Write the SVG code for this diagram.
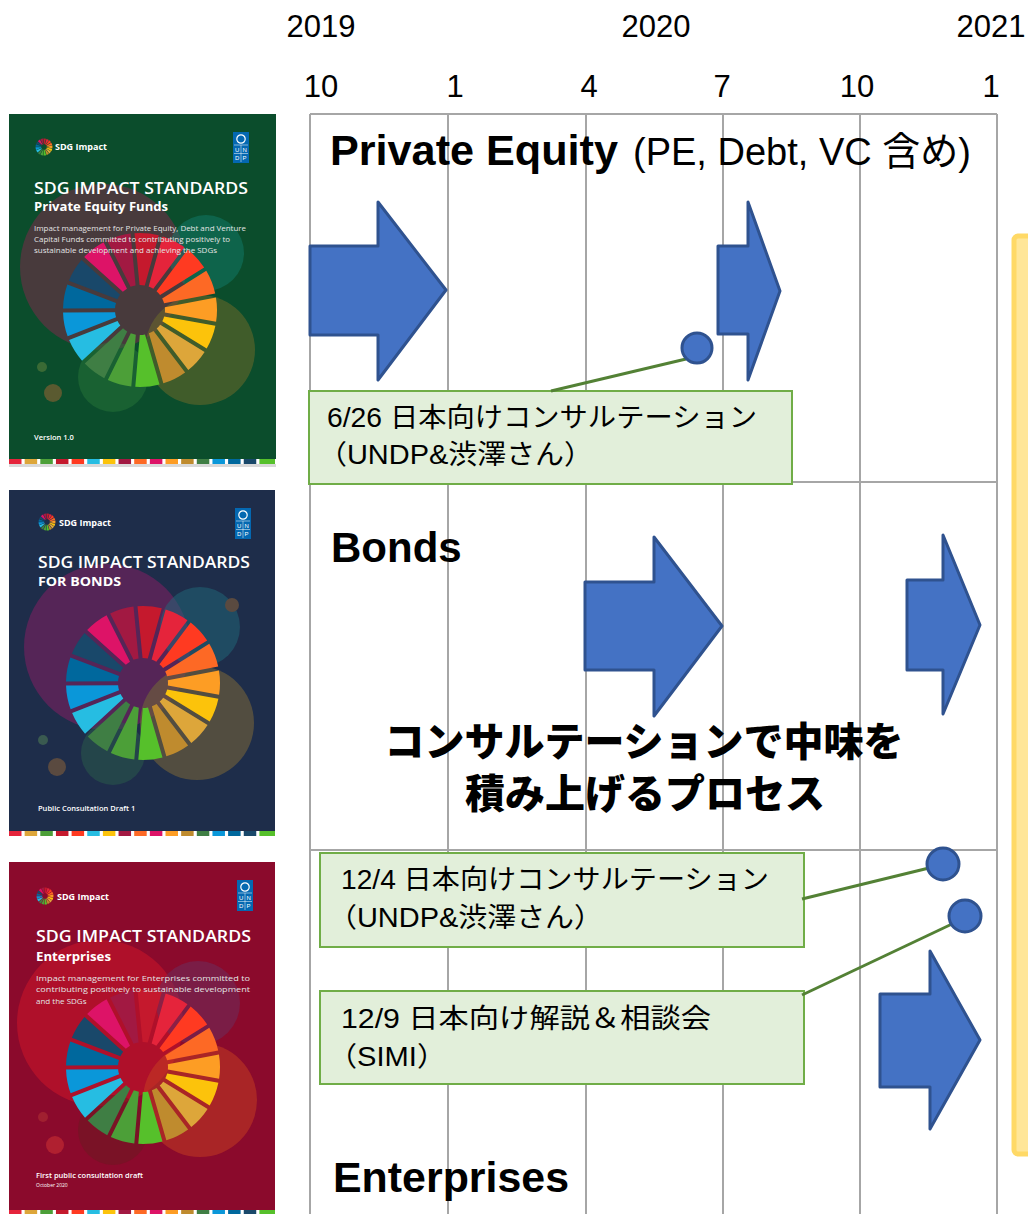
<svg xmlns="http://www.w3.org/2000/svg" xmlns:xlink="http://www.w3.org/1999/xlink" width="1028" height="1214" viewBox="0 0 1028 1214">
<style>
.grid{stroke:#a6a6a6;stroke-width:2;fill:none}
.arrow{fill:#4472c4;stroke:#2f528f;stroke-width:3;stroke-linejoin:round}
.dot{fill:#4472c4;stroke:#2f528f;stroke-width:3}
.conn{stroke:#538135;stroke-width:3;fill:none}
.box{fill:#e2efda;stroke:#70ad47;stroke-width:2}
.axis{font-family:"Liberation Sans",Arial,sans-serif;font-size:31px;text-anchor:middle;fill:#000}
.note{font-family:"Liberation Sans","Noto Sans CJK JP",sans-serif;font-size:27px;fill:#000}
.title{font-family:"Liberation Sans",Arial,sans-serif;font-weight:bold;font-size:42px;fill:#000}
.sub{font-family:"Liberation Sans","Noto Sans CJK JP",sans-serif;font-size:39px;fill:#000}
.big{font-family:"Noto Sans CJK JP",sans-serif;font-weight:900;font-size:40px;text-anchor:middle;fill:#000}
.cov{font-family:"Open Sans","Noto Sans",sans-serif;fill:#fff}
.h1{font-size:16px;font-weight:600}
.h2{font-size:13px;font-weight:700}
.ds{font-size:8px;fill:#e4e4e4}
.sm{font-size:7.5px;font-weight:600}
.logo{font-size:9px;font-weight:700}
.un{font-family:"Liberation Sans",sans-serif;font-size:6px;fill:#fff}
.yel{fill:#ffe699;stroke:#ffd966;stroke-width:5}
</style>
<defs>
<path id="seg" d="M -2.61 -24.86 L -12.18 -76.03 A 77 77 0 0 1 12.18 -76.03 L 2.61 -24.86 A 25 25 0 0 0 -2.61 -24.86 Z"/>
<g id="wheel">
<use href="#seg" fill="#c5192d" transform="rotate(5)"/>
<use href="#seg" fill="#e5243b" transform="rotate(26.18)"/>
<use href="#seg" fill="#ff3a21" transform="rotate(47.35)"/>
<use href="#seg" fill="#fd6925" transform="rotate(68.53)"/>
<use href="#seg" fill="#fd9d24" transform="rotate(89.71)"/>
<use href="#seg" fill="#fcc30b" transform="rotate(110.88)"/>
<use href="#seg" fill="#dda63a" transform="rotate(132.06)"/>
<use href="#seg" fill="#bf8b2e" transform="rotate(153.24)"/>
<use href="#seg" fill="#56c02b" transform="rotate(174.41)"/>
<use href="#seg" fill="#4c9f38" transform="rotate(195.59)"/>
<use href="#seg" fill="#3f7e44" transform="rotate(216.76)"/>
<use href="#seg" fill="#26bde2" transform="rotate(237.94)"/>
<use href="#seg" fill="#0a97d9" transform="rotate(259.12)"/>
<use href="#seg" fill="#00689d" transform="rotate(280.29)"/>
<use href="#seg" fill="#19486a" transform="rotate(301.47)"/>
<use href="#seg" fill="#dd1367" transform="rotate(322.65)"/>
<use href="#seg" fill="#a21942" transform="rotate(343.82)"/>
</g>
<g id="strip">
<rect x="0" y="0" width="12.5" height="5" fill="#e5243b"/>
<rect x="15.65" y="0" width="12.5" height="5" fill="#dda63a"/>
<rect x="31.3" y="0" width="12.5" height="5" fill="#4c9f38"/>
<rect x="46.95" y="0" width="12.5" height="5" fill="#c5192d"/>
<rect x="62.6" y="0" width="12.5" height="5" fill="#ff3a21"/>
<rect x="78.25" y="0" width="12.5" height="5" fill="#26bde2"/>
<rect x="93.9" y="0" width="12.5" height="5" fill="#fcc30b"/>
<rect x="109.55" y="0" width="12.5" height="5" fill="#a21942"/>
<rect x="125.2" y="0" width="12.5" height="5" fill="#fd6925"/>
<rect x="140.85" y="0" width="12.5" height="5" fill="#dd1367"/>
<rect x="156.5" y="0" width="12.5" height="5" fill="#fd9d24"/>
<rect x="172.15" y="0" width="12.5" height="5" fill="#bf8b2e"/>
<rect x="187.8" y="0" width="12.5" height="5" fill="#3f7e44"/>
<rect x="203.45" y="0" width="12.5" height="5" fill="#0a97d9"/>
<rect x="219.1" y="0" width="12.5" height="5" fill="#00689d"/>
<rect x="234.75" y="0" width="12.5" height="5" fill="#19486a"/>
<rect x="250.4" y="0" width="15.6" height="5" fill="#56c02b"/>
</g>
<g id="undp">
<rect x="0" y="0" width="16" height="31" fill="#0468b1"/>
<circle cx="8" cy="7" r="4.2" fill="none" stroke="#fff" stroke-width="1.2"/>
<line x1="1" y1="13" x2="15" y2="13" stroke="#fff" stroke-width="0.5"/>
<line x1="8" y1="13" x2="8" y2="30" stroke="#fff" stroke-width="0.5"/>
<line x1="1" y1="21.5" x2="15" y2="21.5" stroke="#fff" stroke-width="0.5"/>
<text class="un" x="2" y="19.5">U</text><text class="un" x="9.5" y="19.5">N</text>
<text class="un" x="2" y="28">D</text><text class="un" x="9.5" y="28">P</text>
</g>
</defs>

<!-- timeline axis -->
<g id="axis">
<text class="axis" x="321" y="37">2019</text>
<text class="axis" x="656" y="37">2020</text>
<text class="axis" x="991" y="37">2021</text>
<text class="axis" x="321" y="97">10</text>
<text class="axis" x="455" y="97">1</text>
<text class="axis" x="589" y="97">4</text>
<text class="axis" x="722" y="97">7</text>
<text class="axis" x="857" y="97">10</text>
<text class="axis" x="991" y="97">1</text>
</g>

<!-- grid -->
<g id="grid" class="grid">
<line x1="310" y1="114" x2="310" y2="1214"/>
<line x1="448" y1="114" x2="448" y2="1214"/>
<line x1="586" y1="114" x2="586" y2="1214"/>
<line x1="723" y1="114" x2="723" y2="1214"/>
<line x1="860" y1="114" x2="860" y2="1214"/>
<line x1="997" y1="114" x2="997" y2="1214"/>
<line x1="310" y1="114" x2="997" y2="114"/>
<line x1="310" y1="482" x2="997" y2="482"/>
<line x1="310" y1="850" x2="997" y2="850"/>
</g>

<!-- cover: Private Equity Funds -->
<g id="cover-pe">
<rect x="9" y="114" width="267" height="345" fill="#0b4d2c"/>
<circle cx="103" cy="267" r="83" fill="#6a2f45" opacity="0.65"/>
<circle cx="206" cy="253" r="38" fill="#128070" opacity="0.45"/>
<circle cx="200" cy="350" r="55" fill="#6e6a2a" opacity="0.55"/>
<circle cx="113" cy="377" r="35" fill="#2a7a3a" opacity="0.45"/>
<circle cx="42" cy="367" r="5" fill="#3a6a35"/>
<circle cx="53" cy="393" r="9" fill="#5a5a30"/>
<use href="#wheel" transform="translate(140,310)"/>
<use href="#wheel" transform="translate(44,147) scale(0.11)"/>
<text class="cov logo" x="55" y="150">SDG Impact</text>
<use href="#undp" transform="translate(233,132)"/>
<text class="cov h1" x="34" y="194" textLength="214" lengthAdjust="spacingAndGlyphs">SDG IMPACT STANDARDS</text>
<text class="cov h2" x="34" y="211" textLength="134" lengthAdjust="spacingAndGlyphs">Private Equity Funds</text>
<text class="cov ds" x="34" y="231" textLength="212" lengthAdjust="spacingAndGlyphs">Impact management for Private Equity, Debt and Venture</text>
<text class="cov ds" x="34" y="242" textLength="196" lengthAdjust="spacingAndGlyphs">Capital Funds committed to contributing positively to</text>
<text class="cov ds" x="34" y="253" textLength="183" lengthAdjust="spacingAndGlyphs">sustainable development and achieving the SDGs</text>
<text class="cov sm" x="34" y="440">Version 1.0</text>
<use href="#strip" transform="translate(9,459)"/>
<rect x="9" y="464" width="267" height="3" fill="#d9d9d9"/>
</g>

<!-- cover: Bonds -->
<g id="cover-bonds">
<rect x="9" y="490" width="266" height="341" fill="#1e2d4a"/>
<circle cx="107" cy="647" r="83" fill="#7a2060" opacity="0.6"/>
<circle cx="200" cy="627" r="40" fill="#1f6a7a" opacity="0.5"/>
<circle cx="197" cy="723" r="57" fill="#6e603a" opacity="0.65"/>
<circle cx="113" cy="753" r="32" fill="#2a5a4a" opacity="0.55"/>
<circle cx="43" cy="740" r="5" fill="#3a5a50"/>
<circle cx="57" cy="767" r="9" fill="#5a4a40"/>
<circle cx="232" cy="605" r="7" fill="#5a4a40"/>
<use href="#wheel" transform="translate(143,683)"/>
<use href="#wheel" transform="translate(47,522) scale(0.11)"/>
<text class="cov logo" x="59" y="526">SDG Impact</text>
<use href="#undp" transform="translate(235,508)"/>
<text class="cov h1" x="38" y="568" textLength="212" lengthAdjust="spacingAndGlyphs">SDG IMPACT STANDARDS</text>
<text class="cov h2" x="38" y="586" textLength="83" lengthAdjust="spacingAndGlyphs">FOR BONDS</text>
<text class="cov sm" x="38" y="811">Public Consultation Draft 1</text>
<use href="#strip" transform="translate(9,831)"/>
</g>

<!-- cover: Enterprises -->
<g id="cover-ent">
<rect x="9" y="862" width="266" height="348" fill="#8b0a2c"/>
<circle cx="100" cy="1023" r="83" fill="#c8142a" opacity="0.6"/>
<circle cx="198" cy="1003" r="42" fill="#6a3060" opacity="0.5"/>
<circle cx="200" cy="1100" r="57" fill="#c84020" opacity="0.5"/>
<circle cx="113" cy="1130" r="35" fill="#6a1a20" opacity="0.5"/>
<circle cx="43" cy="1117" r="5" fill="#a02030"/>
<circle cx="55" cy="1145" r="9" fill="#b02030"/>
<use href="#wheel" transform="translate(143,1067)"/>
<use href="#wheel" transform="translate(45,896) scale(0.11)"/>
<text class="cov logo" x="57" y="900">SDG Impact</text>
<use href="#undp" transform="translate(237,880)"/>
<text class="cov h1" x="36" y="942" textLength="215" lengthAdjust="spacingAndGlyphs">SDG IMPACT STANDARDS</text>
<text class="cov h2" x="36" y="961" textLength="75" lengthAdjust="spacingAndGlyphs">Enterprises</text>
<text class="cov ds" x="36" y="981" textLength="214" lengthAdjust="spacingAndGlyphs">Impact management for Enterprises committed to</text>
<text class="cov ds" x="36" y="992" textLength="214" lengthAdjust="spacingAndGlyphs">contributing positively to sustainable development</text>
<text class="cov ds" x="36" y="1004">and the SDGs</text>
<text class="cov sm" x="36" y="1178">First public consultation draft</text>
<text class="cov" x="36" y="1187" font-size="5">October 2020</text>
<use href="#strip" transform="translate(9,1210)"/>
</g>

<!-- section titles -->
<g id="title-pe">
<text class="title" x="330" y="165" textLength="288" lengthAdjust="spacingAndGlyphs">Private Equity</text>
<text class="sub" x="633" y="165" textLength="338" lengthAdjust="spacingAndGlyphs">(PE, Debt, VC 含め)</text>
</g>
<g id="title-bonds"><text class="title" x="331" y="562">Bonds</text></g>
<g id="title-ent"><text class="title" x="333" y="1192" textLength="236" lengthAdjust="spacingAndGlyphs">Enterprises</text></g>
<g id="process-label">
<text class="big" x="644" y="756">コンサルテーションで中味を</text>
<text class="big" x="645" y="808">積み上げるプロセス</text>
</g>

<!-- arrows -->
<g id="arrow-pe-1"><polygon class="arrow" points="310,246 378,246 378,202 446,290 378,380 378,335 310,335"/></g>
<g id="arrow-pe-2"><polygon class="arrow" points="718,246 748,246 748,202 780,291 748,380 748,334 718,334"/></g>
<g id="arrow-bonds-1"><polygon class="arrow" points="585,582 654,582 654,537 722,626 654,716 654,670 585,670"/></g>
<g id="arrow-bonds-2"><polygon class="arrow" points="907,580 943,580 943,535 980,625 943,714 943,670 907,670"/></g>
<g id="arrow-ent"><polygon class="arrow" points="880,994 930,994 930,951 980,1040 930,1129 930,1087 880,1087"/></g>

<!-- callouts -->
<g id="note-pe">
<rect class="box" x="309" y="391" width="483" height="93"/>
<text class="note" x="327" y="427" textLength="430" lengthAdjust="spacingAndGlyphs">6/26 日本向けコンサルテーション</text>
<text class="note" x="318" y="464" textLength="275" lengthAdjust="spacingAndGlyphs">（UNDP&amp;渋澤さん）</text>
</g>
<g id="note-ent-1">
<rect class="box" x="320" y="853" width="484" height="94"/>
<text class="note" x="341" y="889" textLength="428" lengthAdjust="spacingAndGlyphs">12/4 日本向けコンサルテーション</text>
<text class="note" x="328" y="927" textLength="275" lengthAdjust="spacingAndGlyphs">（UNDP&amp;渋澤さん）</text>
</g>
<g id="note-ent-2">
<rect class="box" x="320" y="991" width="484" height="93"/>
<text class="note" x="341" y="1028" textLength="370" lengthAdjust="spacingAndGlyphs">12/9 日本向け解説＆相談会</text>
<text class="note" x="328" y="1066" textLength="118" lengthAdjust="spacingAndGlyphs">（SIMI）</text>
</g>

<!-- connectors -->
<g id="connectors">
<line class="conn" x1="551" y1="391" x2="686" y2="359"/>
<line class="conn" x1="802" y1="899" x2="929" y2="868"/>
<line class="conn" x1="802" y1="995" x2="952" y2="924"/>
</g>

<!-- event markers -->
<g id="dot-pe"><circle class="dot" cx="697" cy="348" r="15"/></g>
<g id="dot-ent-1"><circle class="dot" cx="943" cy="864" r="16"/></g>
<g id="dot-ent-2"><circle class="dot" cx="965" cy="916" r="16"/></g>

<!-- right-side panel -->
<g id="side-panel"><rect class="yel" x="1014" y="236" width="40" height="918" rx="4"/></g>
</svg>
